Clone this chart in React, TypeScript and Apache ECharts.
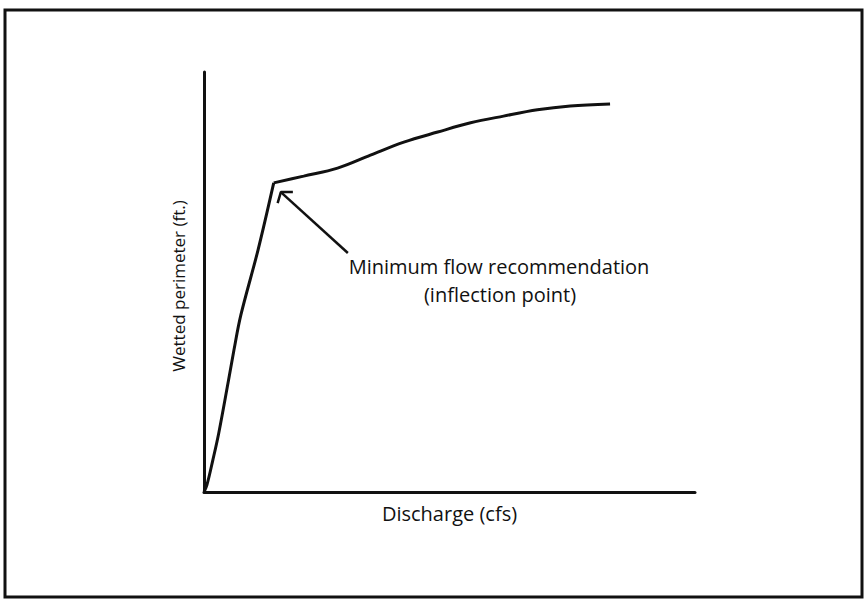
import React, { useEffect, useRef } from "react";
import * as echarts from "echarts";

// Curve of wetted perimeter vs discharge (relative units, 0-100)
// Lower (steep) limb up to the inflection point
const dischargeLow = [0, 0.6, 1.8, 3.0, 4.9, 6.1, 7.5, 11.0, 14.2];
const perimeterLow = [0, 1.7, 7.6, 14.0, 26.0, 33.8, 42.1, 57.6, 73.6];
// Upper (flat) limb from the inflection point
const dischargeHigh = [14.2, 20.3, 27.2, 33.9, 40.7, 47.6, 54.3, 61.0, 67.9, 74.6, 82.7];
const perimeterHigh = [73.6, 75.2, 77.1, 80.2, 83.3, 85.7, 87.9, 89.5, 91.0, 91.9, 92.4];

// Annotation arrow (data coordinates)
const arrowShaft = [[15.65, 71.4], [29.3, 56.9]];
const arrowHead = [[15.0, 68.8], [15.65, 71.4], [18.1, 71.4]];

const xAxisTitle = "Discharge (cfs)";
const yAxisTitle = "Wetted perimeter (ft.)";
const annotationLines = ["Minimum flow recommendation", "(inflection point)"];

const FONT = "'Open Sans', 'Noto Sans', sans-serif";
const INK = "#111";

export default function App() {
  const ref = useRef<HTMLDivElement>(null);
  useEffect(() => {
    document.body.style.margin = "0";
    const chart = echarts.init(ref.current!, null, { renderer: "svg" });
    const axisLine = { show: true, lineStyle: { color: INK, width: 3 } };
    const curve = (xs: number[], ys: number[]) => ({
      type: "line",
      data: xs.map((x, i) => [x, ys[i]]),
      showSymbol: false,
      smooth: 0.35,
      lineStyle: { color: INK, width: 3 },
    });
    chart.setOption({
      animation: false,
      backgroundColor: "#fff",
      grid: { left: 204, right: 172, top: 72, bottom: 110 },
      xAxis: {
        type: "value",
        min: 0,
        max: 100,
        axisLine,
        axisTick: { show: false },
        axisLabel: { show: false },
        splitLine: { show: false },
        name: xAxisTitle,
        nameLocation: "middle",
        nameGap: 11,
        nameTextStyle: { fontFamily: FONT, fontSize: 20, color: INK },
      },
      yAxis: {
        type: "value",
        min: 0,
        max: 100,
        axisLine,
        axisTick: { show: false },
        axisLabel: { show: false },
        splitLine: { show: false },
        name: yAxisTitle,
        nameLocation: "middle",
        nameGap: 17,
        nameTextStyle: { fontFamily: FONT, fontSize: 17, color: INK, padding: [0, 8, 0, 0] },
      },
      series: [
        curve(dischargeLow, perimeterLow),
        curve(dischargeHigh, perimeterHigh),
        {
          type: "line",
          data: arrowShaft,
          showSymbol: false,
          lineStyle: { color: INK, width: 2.5 },
        },
        {
          type: "line",
          data: arrowHead,
          showSymbol: false,
          lineStyle: { color: INK, width: 2.5 },
        },
      ],
      graphic: [
        {
          type: "rect",
          shape: { x: 5, y: 10, width: 857, height: 587 },
          style: { fill: "none", stroke: INK, lineWidth: 3 },
          silent: true,
        },
        {
          type: "text",
          x: 499,
          y: 266,
          style: {
            text: annotationLines[0],
            fontFamily: FONT,
            fontSize: 20,
            fill: INK,
            textAlign: "center",
            textVerticalAlign: "middle",
          },
        },
        {
          type: "text",
          x: 500,
          y: 294,
          style: {
            text: annotationLines[1],
            fontFamily: FONT,
            fontSize: 20,
            fill: INK,
            textAlign: "center",
            textVerticalAlign: "middle",
          },
        },
      ],
    });
    return () => chart.dispose();
  }, []);
  return <div ref={ref} style={{ position: "fixed", left: 0, top: 0, width: 867, height: 602 }} />;
}
